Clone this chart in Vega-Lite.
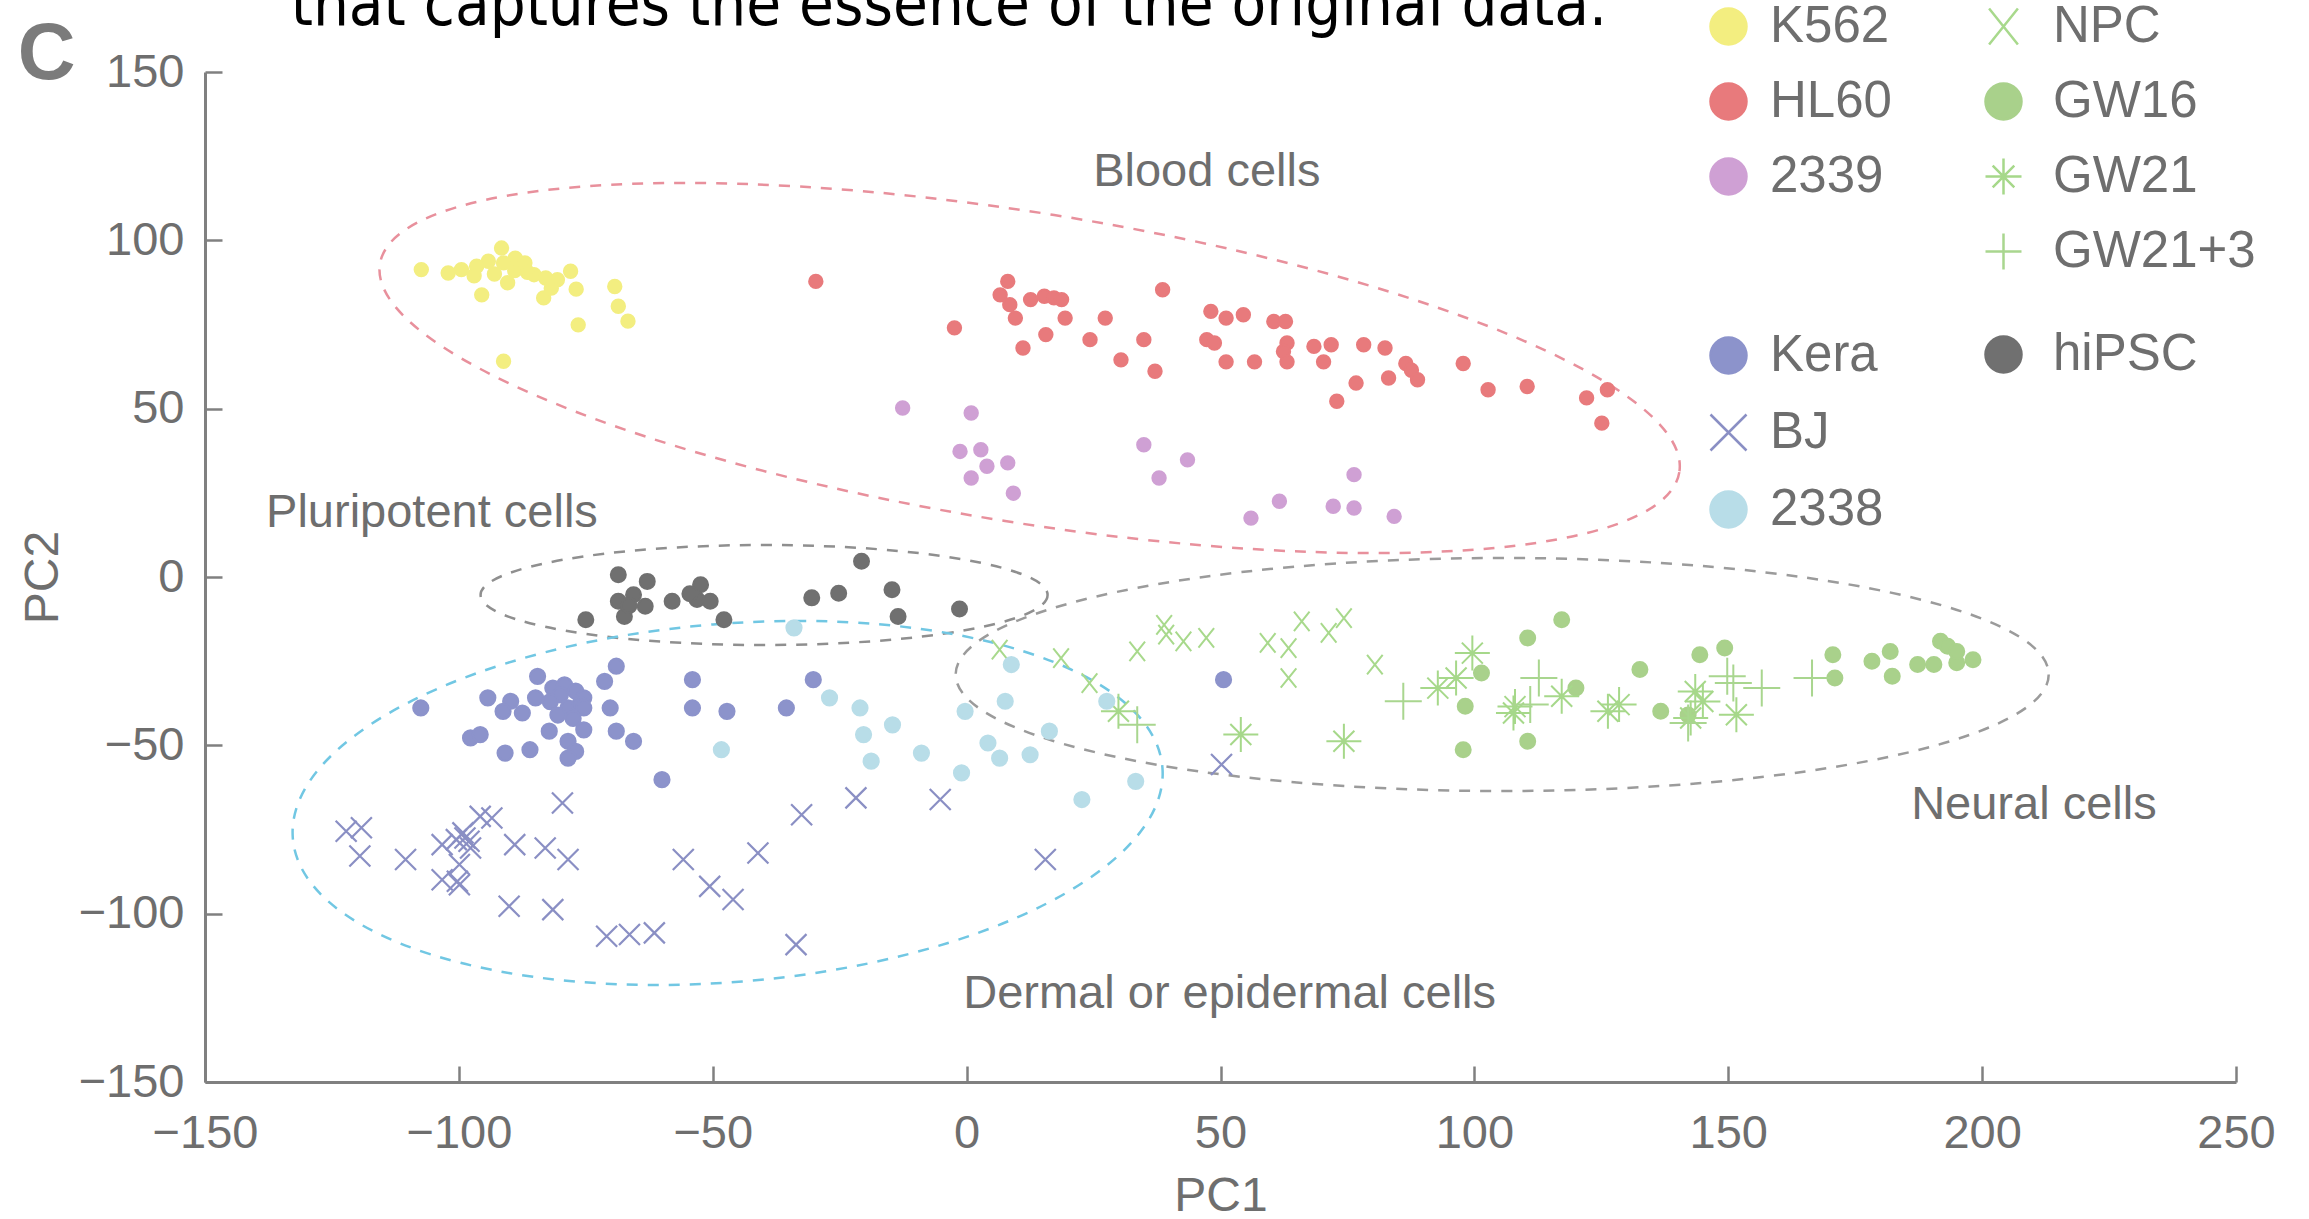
{
  "$schema": "https://vega.github.io/schema/vega-lite/v6.json",
  "width": 2031,
  "height": 1010,
  "autosize": {"type": "none"},
  "padding": {"left": 205, "top": 72, "right": 73, "bottom": 137},
  "background": "white",
  "config": {"view": {"stroke": null}, "font": "Liberation Sans"},
  "datasets": {
    "ellipses": [
      {"name": "Blood", "PC1": 12.41, "PC2": 62.07},
      {"name": "Pluripotent", "PC1": -39.89, "PC2": -5.35},
      {"name": "Dermal", "PC1": -47.07, "PC2": -67.12},
      {"name": "Neural", "PC1": 105.48, "PC2": -28.96}
    ],
    "notes": [
      {"kind": "group", "text": "Blood cells", "PC1": 47.3, "PC2": 116.1},
      {"kind": "group", "text": "Pluripotent cells", "PC1": -105.3, "PC2": 15.0},
      {"kind": "group", "text": "Dermal or epidermal cells", "PC1": 51.8, "PC2": -128.0},
      {"kind": "group", "text": "Neural cells", "PC1": 210.2, "PC2": -71.8},
      {"kind": "panel", "text": "C", "PC1": -181.2, "PC2": 148.0},
      {"kind": "caption", "text": "that captures the essence of the original data.", "PC1": -3.5, "PC2": 164.0}
    ],
    "cells": [
      {"type": "K562", "PC1": -107.4, "PC2": 91.3}, {"type": "K562", "PC1": -102.1, "PC2": 90.3}, {"type": "K562", "PC1": -99.5, "PC2": 91.3}, {"type": "K562", "PC1": -96.5, "PC2": 92.3}, {"type": "K562", "PC1": -94.2, "PC2": 93.8}, {"type": "K562", "PC1": -91.6, "PC2": 97.7}, {"type": "K562", "PC1": -91.2, "PC2": 93.3}, {"type": "K562", "PC1": -88.9, "PC2": 94.7}, {"type": "K562", "PC1": -87.0, "PC2": 93.3}, {"type": "K562", "PC1": -85.2, "PC2": 89.8}, {"type": "K562", "PC1": -82.9, "PC2": 88.8}, {"type": "K562", "PC1": -80.6, "PC2": 88.3}, {"type": "K562", "PC1": -78.0, "PC2": 90.8}, {"type": "K562", "PC1": -95.5, "PC2": 83.8}, {"type": "K562", "PC1": -90.4, "PC2": 87.4}, {"type": "K562", "PC1": -83.3, "PC2": 82.9}, {"type": "K562", "PC1": -81.8, "PC2": 85.8}, {"type": "K562", "PC1": -76.9, "PC2": 85.5}, {"type": "K562", "PC1": -76.5, "PC2": 74.9}, {"type": "K562", "PC1": -69.3, "PC2": 86.3}, {"type": "K562", "PC1": -68.6, "PC2": 80.4}, {"type": "K562", "PC1": -66.7, "PC2": 76.0}, {"type": "K562", "PC1": -91.2, "PC2": 64.1}, {"type": "K562", "PC1": -93.0, "PC2": 90.0}, {"type": "K562", "PC1": -89.0, "PC2": 91.0}, {"type": "K562", "PC1": -97.0, "PC2": 89.5}, {"type": "K562", "PC1": -86.5, "PC2": 90.5},
      {"type": "HL60", "PC1": -29.7, "PC2": 87.8}, {"type": "HL60", "PC1": -2.4, "PC2": 74.0}, {"type": "HL60", "PC1": 8.1, "PC2": 87.8}, {"type": "HL60", "PC1": 6.6, "PC2": 83.8}, {"type": "HL60", "PC1": 8.5, "PC2": 80.9}, {"type": "HL60", "PC1": 9.6, "PC2": 76.9}, {"type": "HL60", "PC1": 11.1, "PC2": 68.0}, {"type": "HL60", "PC1": 12.6, "PC2": 82.4}, {"type": "HL60", "PC1": 15.3, "PC2": 83.4}, {"type": "HL60", "PC1": 17.2, "PC2": 82.9}, {"type": "HL60", "PC1": 18.7, "PC2": 82.4}, {"type": "HL60", "PC1": 15.6, "PC2": 72.0}, {"type": "HL60", "PC1": 19.4, "PC2": 76.9}, {"type": "HL60", "PC1": 24.3, "PC2": 70.5}, {"type": "HL60", "PC1": 27.3, "PC2": 76.9}, {"type": "HL60", "PC1": 30.4, "PC2": 64.5}, {"type": "HL60", "PC1": 34.9, "PC2": 70.5}, {"type": "HL60", "PC1": 37.1, "PC2": 61.1}, {"type": "HL60", "PC1": 38.6, "PC2": 85.3}, {"type": "HL60", "PC1": 48.1, "PC2": 78.9}, {"type": "HL60", "PC1": 51.1, "PC2": 76.9}, {"type": "HL60", "PC1": 54.5, "PC2": 77.9}, {"type": "HL60", "PC1": 47.3, "PC2": 70.5}, {"type": "HL60", "PC1": 48.8, "PC2": 69.5}, {"type": "HL60", "PC1": 51.1, "PC2": 63.9}, {"type": "HL60", "PC1": 56.7, "PC2": 63.9}, {"type": "HL60", "PC1": 60.5, "PC2": 75.9}, {"type": "HL60", "PC1": 62.8, "PC2": 75.9}, {"type": "HL60", "PC1": 63.1, "PC2": 69.5}, {"type": "HL60", "PC1": 62.4, "PC2": 67.0}, {"type": "HL60", "PC1": 63.1, "PC2": 63.9}, {"type": "HL60", "PC1": 68.4, "PC2": 68.5}, {"type": "HL60", "PC1": 71.8, "PC2": 69.0}, {"type": "HL60", "PC1": 70.3, "PC2": 63.9}, {"type": "HL60", "PC1": 78.2, "PC2": 69.0}, {"type": "HL60", "PC1": 82.4, "PC2": 68.0}, {"type": "HL60", "PC1": 76.7, "PC2": 57.6}, {"type": "HL60", "PC1": 72.9, "PC2": 52.2}, {"type": "HL60", "PC1": 83.1, "PC2": 59.1}, {"type": "HL60", "PC1": 86.5, "PC2": 63.4}, {"type": "HL60", "PC1": 87.6, "PC2": 61.4}, {"type": "HL60", "PC1": 88.8, "PC2": 58.6}, {"type": "HL60", "PC1": 97.8, "PC2": 63.4}, {"type": "HL60", "PC1": 102.7, "PC2": 55.6}, {"type": "HL60", "PC1": 110.4, "PC2": 56.6}, {"type": "HL60", "PC1": 122.1, "PC2": 53.2}, {"type": "HL60", "PC1": 126.2, "PC2": 55.6}, {"type": "HL60", "PC1": 125.1, "PC2": 45.7},
      {"type": "2339", "PC1": -12.6, "PC2": 50.2}, {"type": "2339", "PC1": 0.9, "PC2": 48.7}, {"type": "2339", "PC1": -1.3, "PC2": 37.3}, {"type": "2339", "PC1": 2.8, "PC2": 37.8}, {"type": "2339", "PC1": 4.0, "PC2": 32.9}, {"type": "2339", "PC1": 8.1, "PC2": 33.9}, {"type": "2339", "PC1": 0.9, "PC2": 29.4}, {"type": "2339", "PC1": 9.2, "PC2": 24.9}, {"type": "2339", "PC1": 34.9, "PC2": 39.3}, {"type": "2339", "PC1": 43.5, "PC2": 34.8}, {"type": "2339", "PC1": 37.9, "PC2": 29.4}, {"type": "2339", "PC1": 56.0, "PC2": 17.5}, {"type": "2339", "PC1": 61.6, "PC2": 22.5}, {"type": "2339", "PC1": 72.2, "PC2": 21.0}, {"type": "2339", "PC1": 76.3, "PC2": 20.5}, {"type": "2339", "PC1": 76.3, "PC2": 30.4}, {"type": "2339", "PC1": 84.2, "PC2": 18.0},
      {"type": "hiPSC", "PC1": -68.6, "PC2": 0.7}, {"type": "hiPSC", "PC1": -62.9, "PC2": -1.3}, {"type": "hiPSC", "PC1": -68.6, "PC2": -7.2}, {"type": "hiPSC", "PC1": -65.6, "PC2": -5.3}, {"type": "hiPSC", "PC1": -63.3, "PC2": -8.7}, {"type": "hiPSC", "PC1": -67.4, "PC2": -11.7}, {"type": "hiPSC", "PC1": -58.0, "PC2": -7.2}, {"type": "hiPSC", "PC1": -75.0, "PC2": -12.7}, {"type": "hiPSC", "PC1": -52.4, "PC2": -2.3}, {"type": "hiPSC", "PC1": -53.1, "PC2": -6.7}, {"type": "hiPSC", "PC1": -50.5, "PC2": -7.2}, {"type": "hiPSC", "PC1": -47.8, "PC2": -12.7}, {"type": "hiPSC", "PC1": -30.5, "PC2": -6.2}, {"type": "hiPSC", "PC1": -25.2, "PC2": -4.8}, {"type": "hiPSC", "PC1": -20.7, "PC2": 4.7}, {"type": "hiPSC", "PC1": -14.7, "PC2": -3.8}, {"type": "hiPSC", "PC1": -13.5, "PC2": -11.7}, {"type": "hiPSC", "PC1": -1.4, "PC2": -9.5}, {"type": "hiPSC", "PC1": -66.5, "PC2": -8.5}, {"type": "hiPSC", "PC1": -54.5, "PC2": -5.0},
      {"type": "Kera", "PC1": -107.5, "PC2": -38.9}, {"type": "Kera", "PC1": -94.3, "PC2": -35.9}, {"type": "Kera", "PC1": -89.8, "PC2": -36.9}, {"type": "Kera", "PC1": -91.3, "PC2": -39.9}, {"type": "Kera", "PC1": -87.5, "PC2": -40.4}, {"type": "Kera", "PC1": -84.5, "PC2": -29.5}, {"type": "Kera", "PC1": -84.9, "PC2": -35.9}, {"type": "Kera", "PC1": -81.5, "PC2": -33.0}, {"type": "Kera", "PC1": -79.2, "PC2": -32.0}, {"type": "Kera", "PC1": -77.0, "PC2": -33.9}, {"type": "Kera", "PC1": -75.4, "PC2": -35.9}, {"type": "Kera", "PC1": -78.5, "PC2": -38.9}, {"type": "Kera", "PC1": -76.2, "PC2": -37.9}, {"type": "Kera", "PC1": -75.4, "PC2": -38.9}, {"type": "Kera", "PC1": -80.0, "PC2": -35.0}, {"type": "Kera", "PC1": -82.0, "PC2": -37.0}, {"type": "Kera", "PC1": -97.7, "PC2": -47.8}, {"type": "Kera", "PC1": -95.8, "PC2": -46.8}, {"type": "Kera", "PC1": -90.9, "PC2": -52.3}, {"type": "Kera", "PC1": -86.0, "PC2": -51.3}, {"type": "Kera", "PC1": -82.2, "PC2": -45.8}, {"type": "Kera", "PC1": -78.5, "PC2": -48.8}, {"type": "Kera", "PC1": -75.4, "PC2": -45.4}, {"type": "Kera", "PC1": -77.0, "PC2": -51.8}, {"type": "Kera", "PC1": -78.5, "PC2": -53.8}, {"type": "Kera", "PC1": -70.2, "PC2": -38.9}, {"type": "Kera", "PC1": -71.3, "PC2": -31.0}, {"type": "Kera", "PC1": -69.0, "PC2": -26.5}, {"type": "Kera", "PC1": -69.0, "PC2": -45.8}, {"type": "Kera", "PC1": -65.6, "PC2": -48.8}, {"type": "Kera", "PC1": -54.0, "PC2": -30.5}, {"type": "Kera", "PC1": -54.0, "PC2": -38.9}, {"type": "Kera", "PC1": -47.2, "PC2": -39.9}, {"type": "Kera", "PC1": -60.0, "PC2": -60.2}, {"type": "Kera", "PC1": -35.5, "PC2": -38.9}, {"type": "Kera", "PC1": -30.2, "PC2": -30.5}, {"type": "Kera", "PC1": 50.6, "PC2": -30.5}, {"type": "Kera", "PC1": -77.5, "PC2": -42.0}, {"type": "Kera", "PC1": -80.5, "PC2": -41.0},
      {"type": "BJ", "PC1": -122.2, "PC2": -75.5}, {"type": "BJ", "PC1": -119.2, "PC2": -74.5}, {"type": "BJ", "PC1": -119.5, "PC2": -82.9}, {"type": "BJ", "PC1": -110.5, "PC2": -83.9}, {"type": "BJ", "PC1": -103.3, "PC2": -79.5}, {"type": "BJ", "PC1": -98.8, "PC2": -77.5}, {"type": "BJ", "PC1": -99.2, "PC2": -76.0}, {"type": "BJ", "PC1": -97.7, "PC2": -80.5}, {"type": "BJ", "PC1": -99.9, "PC2": -85.4}, {"type": "BJ", "PC1": -103.3, "PC2": -89.9}, {"type": "BJ", "PC1": -100.3, "PC2": -90.4}, {"type": "BJ", "PC1": -99.9, "PC2": -91.4}, {"type": "BJ", "PC1": -95.8, "PC2": -71.1}, {"type": "BJ", "PC1": -93.5, "PC2": -71.6}, {"type": "BJ", "PC1": -89.0, "PC2": -79.5}, {"type": "BJ", "PC1": -83.0, "PC2": -80.5}, {"type": "BJ", "PC1": -78.5, "PC2": -83.9}, {"type": "BJ", "PC1": -79.6, "PC2": -67.1}, {"type": "BJ", "PC1": -90.1, "PC2": -97.8}, {"type": "BJ", "PC1": -81.5, "PC2": -98.8}, {"type": "BJ", "PC1": -70.9, "PC2": -106.7}, {"type": "BJ", "PC1": -66.4, "PC2": -106.2}, {"type": "BJ", "PC1": -61.5, "PC2": -105.7}, {"type": "BJ", "PC1": -55.8, "PC2": -83.9}, {"type": "BJ", "PC1": -50.6, "PC2": -91.9}, {"type": "BJ", "PC1": -46.0, "PC2": -95.8}, {"type": "BJ", "PC1": -41.1, "PC2": -82.0}, {"type": "BJ", "PC1": -32.5, "PC2": -70.6}, {"type": "BJ", "PC1": -33.6, "PC2": -109.2}, {"type": "BJ", "PC1": -21.8, "PC2": -65.6}, {"type": "BJ", "PC1": -5.2, "PC2": -66.1}, {"type": "BJ", "PC1": 15.5, "PC2": -83.9}, {"type": "BJ", "PC1": 50.2, "PC2": -55.7}, {"type": "BJ", "PC1": -98.0, "PC2": -78.5}, {"type": "BJ", "PC1": -100.5, "PC2": -78.0},
      {"type": "2338", "PC1": -34.0, "PC2": -15.1}, {"type": "2338", "PC1": -48.3, "PC2": -51.3}, {"type": "2338", "PC1": -27.0, "PC2": -35.9}, {"type": "2338", "PC1": -21.0, "PC2": -38.9}, {"type": "2338", "PC1": -14.6, "PC2": -43.9}, {"type": "2338", "PC1": -20.3, "PC2": -46.8}, {"type": "2338", "PC1": -18.8, "PC2": -54.7}, {"type": "2338", "PC1": -8.9, "PC2": -52.3}, {"type": "2338", "PC1": -1.0, "PC2": -58.2}, {"type": "2338", "PC1": -0.3, "PC2": -39.9}, {"type": "2338", "PC1": 7.6, "PC2": -36.9}, {"type": "2338", "PC1": 8.8, "PC2": -26.0}, {"type": "2338", "PC1": 4.2, "PC2": -49.3}, {"type": "2338", "PC1": 6.5, "PC2": -53.8}, {"type": "2338", "PC1": 12.5, "PC2": -52.8}, {"type": "2338", "PC1": 16.3, "PC2": -45.8}, {"type": "2338", "PC1": 27.6, "PC2": -36.9}, {"type": "2338", "PC1": 33.3, "PC2": -60.7}, {"type": "2338", "PC1": 22.7, "PC2": -66.1},
      {"type": "NPC", "PC1": 6.5, "PC2": -21.6}, {"type": "NPC", "PC1": 18.6, "PC2": -24.1}, {"type": "NPC", "PC1": 24.2, "PC2": -31.5}, {"type": "NPC", "PC1": 33.6, "PC2": -22.1}, {"type": "NPC", "PC1": 38.9, "PC2": -14.2}, {"type": "NPC", "PC1": 39.3, "PC2": -17.1}, {"type": "NPC", "PC1": 42.7, "PC2": -19.1}, {"type": "NPC", "PC1": 47.2, "PC2": -18.1}, {"type": "NPC", "PC1": 59.3, "PC2": -19.6}, {"type": "NPC", "PC1": 63.4, "PC2": -21.1}, {"type": "NPC", "PC1": 66.0, "PC2": -13.2}, {"type": "NPC", "PC1": 63.4, "PC2": -30.0}, {"type": "NPC", "PC1": 71.3, "PC2": -16.6}, {"type": "NPC", "PC1": 74.3, "PC2": -12.2}, {"type": "NPC", "PC1": 80.4, "PC2": -26.0},
      {"type": "GW16", "PC1": 117.2, "PC2": -12.7}, {"type": "GW16", "PC1": 110.5, "PC2": -18.1}, {"type": "GW16", "PC1": 101.4, "PC2": -28.5}, {"type": "GW16", "PC1": 98.2, "PC2": -38.4}, {"type": "GW16", "PC1": 97.8, "PC2": -51.3}, {"type": "GW16", "PC1": 110.5, "PC2": -48.8}, {"type": "GW16", "PC1": 120.0, "PC2": -33.0}, {"type": "GW16", "PC1": 132.6, "PC2": -27.5}, {"type": "GW16", "PC1": 136.7, "PC2": -39.9}, {"type": "GW16", "PC1": 142.1, "PC2": -41.0}, {"type": "GW16", "PC1": 144.4, "PC2": -23.1}, {"type": "GW16", "PC1": 149.3, "PC2": -21.1}, {"type": "GW16", "PC1": 170.6, "PC2": -23.1}, {"type": "GW16", "PC1": 171.0, "PC2": -30.0}, {"type": "GW16", "PC1": 178.3, "PC2": -25.0}, {"type": "GW16", "PC1": 181.9, "PC2": -22.1}, {"type": "GW16", "PC1": 182.3, "PC2": -29.5}, {"type": "GW16", "PC1": 187.3, "PC2": -26.0}, {"type": "GW16", "PC1": 190.5, "PC2": -26.0}, {"type": "GW16", "PC1": 191.8, "PC2": -19.1}, {"type": "GW16", "PC1": 193.2, "PC2": -20.6}, {"type": "GW16", "PC1": 195.0, "PC2": -25.5}, {"type": "GW16", "PC1": 195.0, "PC2": -22.1}, {"type": "GW16", "PC1": 198.2, "PC2": -24.6},
      {"type": "GW21", "PC1": 29.9, "PC2": -39.9}, {"type": "GW21", "PC1": 54.0, "PC2": -46.8}, {"type": "GW21", "PC1": 74.3, "PC2": -48.8}, {"type": "GW21", "PC1": 99.6, "PC2": -22.6}, {"type": "GW21", "PC1": 96.4, "PC2": -30.0}, {"type": "GW21", "PC1": 92.8, "PC2": -33.0}, {"type": "GW21", "PC1": 107.7, "PC2": -40.4}, {"type": "GW21", "PC1": 117.2, "PC2": -35.4}, {"type": "GW21", "PC1": 126.3, "PC2": -39.9}, {"type": "GW21", "PC1": 128.5, "PC2": -37.9}, {"type": "GW21", "PC1": 143.5, "PC2": -34.0}, {"type": "GW21", "PC1": 142.6, "PC2": -41.9}, {"type": "GW21", "PC1": 151.6, "PC2": -40.9}, {"type": "GW21", "PC1": 108.0, "PC2": -38.5}, {"type": "GW21", "PC1": 145.0, "PC2": -37.0},
      {"type": "GW21+3", "PC1": 33.6, "PC2": -43.9}, {"type": "GW21+3", "PC1": 86.0, "PC2": -36.9}, {"type": "GW21+3", "PC1": 112.7, "PC2": -30.0}, {"type": "GW21+3", "PC1": 111.0, "PC2": -37.9}, {"type": "GW21+3", "PC1": 149.8, "PC2": -29.5}, {"type": "GW21+3", "PC1": 151.0, "PC2": -31.5}, {"type": "GW21+3", "PC1": 156.6, "PC2": -33.0}, {"type": "GW21+3", "PC1": 166.5, "PC2": -30.0}, {"type": "GW21+3", "PC1": 142.1, "PC2": -43.4}
    ]
  },
  "resolve": {"scale": {"fill": "independent", "stroke": "independent", "shape": "independent", "size": "independent"}},
  "layer": [
    {
      "data": {"name": "ellipses"},
      "transform": [{"filter": "datum.name === 'Blood'"}],
      "mark": {"type": "point", "shape": "M6.497,1.041C6.362,1.886,3.343,2.105,-0.245,1.53C-3.833,0.955,-6.632,-0.196,-6.497,-1.041C-6.362,-1.886,-3.343,-2.105,0.245,-1.53C3.833,-0.955,6.632,0.196,6.497,1.041Z", "size": 40000, "filled": false, "color": "#e8909c", "stroke": "#e8909c", "strokeWidth": 2.5, "strokeDash": [11, 10], "opacity": 1},
      "encoding": {
        "x": {"field": "PC1", "type": "quantitative", "title": "PC1", "scale": {"domain": [-150, 250], "nice": false, "zero": false},
          "axis": {"values": [-150, -100, -50, 0, 50, 100, 150, 200, 250], "grid": false, "tickSize": -16, "tickWidth": 2.5, "tickColor": "#808080", "domainColor": "#808080", "domainWidth": 3, "labelFontSize": 47, "labelColor": "#6e6e6e", "labelFont": "Liberation Sans", "labelPadding": 44, "labelFlush": false, "labelOverlap": false, "labelBound": false, "titleFontSize": 48, "titleFontWeight": "normal", "titleColor": "#6e6e6e", "titleFont": "Liberation Sans", "titleY": 128, "titleBaseline": "alphabetic"}},
        "y": {"field": "PC2", "type": "quantitative", "title": "PC2", "scale": {"domain": [-150, 150], "nice": false, "zero": false},
          "axis": {"values": [-150, -100, -50, 0, 50, 100, 150], "grid": false, "tickSize": -17, "tickWidth": 2.5, "tickColor": "#808080", "domainColor": "#808080", "domainWidth": 3, "labelFontSize": 47, "labelColor": "#6e6e6e", "labelFont": "Liberation Sans", "labelPadding": 38, "labelFlush": false, "labelOverlap": false, "labelBound": false, "titleFontSize": 48, "titleFontWeight": "normal", "titleColor": "#6e6e6e", "titleFont": "Liberation Sans", "titleX": -148, "titleBaseline": "alphabetic"}}
      }
    },
    {
      "data": {"name": "ellipses"},
      "transform": [{"filter": "datum.name === 'Pluripotent'"}],
      "mark": {"type": "point", "shape": "M2.835,0C2.835,0.276,1.566,0.5,0,0.5C-1.566,0.5,-2.835,0.276,-2.835,0C-2.835,-0.276,-1.566,-0.5,0,-0.5C1.566,-0.5,2.835,-0.276,2.835,0Z", "size": 40000, "filled": false, "color": "#8f8f8f", "stroke": "#8f8f8f", "strokeWidth": 2.5, "strokeDash": [11, 10], "opacity": 1},
      "encoding": {
        "x": {"field": "PC1", "type": "quantitative", "title": "PC1", "scale": {"domain": [-150, 250], "nice": false, "zero": false}},
        "y": {"field": "PC2", "type": "quantitative", "title": "PC2", "scale": {"domain": [-150, 150], "nice": false, "zero": false}}
      }
    },
    {
      "data": {"name": "ellipses"},
      "transform": [{"filter": "datum.name === 'Dermal'"}],
      "mark": {"type": "point", "shape": "M4.348,-0.354C4.428,0.632,2.547,1.589,0.146,1.785C-2.256,1.981,-4.268,1.34,-4.348,0.354C-4.428,-0.632,-2.547,-1.589,-0.146,-1.785C2.256,-1.981,4.268,-1.34,4.348,-0.354Z", "size": 40000, "filled": false, "color": "#71c7e3", "stroke": "#71c7e3", "strokeWidth": 2.5, "strokeDash": [11, 10], "opacity": 1},
      "encoding": {
        "x": {"field": "PC1", "type": "quantitative", "title": "PC1", "scale": {"domain": [-150, 250], "nice": false, "zero": false}},
        "y": {"field": "PC2", "type": "quantitative", "title": "PC2", "scale": {"domain": [-150, 150], "nice": false, "zero": false}}
      }
    },
    {
      "data": {"name": "ellipses"},
      "transform": [{"filter": "datum.name === 'Neural'"}],
      "mark": {"type": "point", "shape": "M5.465,0C5.465,0.643,3.018,1.165,0,1.165C-3.018,1.165,-5.465,0.643,-5.465,0C-5.465,-0.643,-3.018,-1.165,0,-1.165C3.018,-1.165,5.465,-0.643,5.465,0Z", "size": 40000, "filled": false, "color": "#9b9b9b", "stroke": "#9b9b9b", "strokeWidth": 2.5, "strokeDash": [11, 10], "opacity": 1},
      "encoding": {
        "x": {"field": "PC1", "type": "quantitative", "title": "PC1", "scale": {"domain": [-150, 250], "nice": false, "zero": false}},
        "y": {"field": "PC2", "type": "quantitative", "title": "PC2", "scale": {"domain": [-150, 150], "nice": false, "zero": false}}
      }
    },
    {
      "data": {"name": "cells"},
      "transform": [{"filter": {"field": "type", "oneOf": ["K562", "HL60", "2339"]}}],
      "mark": {"type": "point", "filled": true, "opacity": 1, "strokeWidth": 2, "size": 180},
      "encoding": {
        "x": {"field": "PC1", "type": "quantitative", "title": "PC1", "scale": {"domain": [-150, 250], "nice": false, "zero": false}},
        "y": {"field": "PC2", "type": "quantitative", "title": "PC2", "scale": {"domain": [-150, 150], "nice": false, "zero": false}},
        "fill": {"field": "type", "type": "nominal", "scale": {"domain": ["K562", "HL60", "2339"], "range": ["#f3ee80", "#e87a7c", "#cfa0d4"]},
          "legend": {"orient": "none", "legendX": 1498, "legendY": -71, "title": null, "labelFontSize": 51, "labelLimit": 500, "labelColor": "#6e6e6e", "labelFont": "Liberation Sans", "symbolSize": 1296, "symbolStrokeWidth": 2.5, "rowPadding": 23, "labelOffset": 16, "padding": 0, "offset": 0}},
        "stroke": {"field": "type", "type": "nominal", "scale": {"domain": ["K562", "HL60", "2339"], "range": ["#f3ee80", "#e87a7c", "#cfa0d4"]}},
        "shape": {"field": "type", "type": "nominal", "scale": {"domain": ["K562", "HL60", "2339"], "range": ["circle", "circle", "circle"]}}
      }
    },
    {
      "data": {"name": "cells"},
      "transform": [{"filter": {"field": "type", "oneOf": ["NPC", "GW16", "GW21", "GW21+3"]}}],
      "mark": {"type": "point", "filled": true, "opacity": 1, "strokeWidth": 2},
      "encoding": {
        "x": {"field": "PC1", "type": "quantitative", "title": "PC1", "scale": {"domain": [-150, 250], "nice": false, "zero": false}},
        "y": {"field": "PC2", "type": "quantitative", "title": "PC2", "scale": {"domain": [-150, 150], "nice": false, "zero": false}},
        "fill": {"field": "type", "type": "nominal", "scale": {"domain": ["NPC", "GW16", "GW21", "GW21+3"], "range": ["#a8d98c", "#a9d18b", "#a6d88a", "#a9d68f"]},
          "legend": {"orient": "none", "legendX": 1773, "legendY": -71, "title": null, "labelFontSize": 51, "labelLimit": 500, "labelColor": "#6e6e6e", "labelFont": "Liberation Sans", "symbolSize": 1296, "symbolStrokeWidth": 2.5, "rowPadding": 23, "labelOffset": 24, "padding": 0, "offset": 0}},
        "stroke": {"field": "type", "type": "nominal", "scale": {"domain": ["NPC", "GW16", "GW21", "GW21+3"], "range": ["#a8d98c", "#a9d18b", "#a6d88a", "#a9d68f"]}},
        "shape": {"field": "type", "type": "nominal", "scale": {"domain": ["NPC", "GW16", "GW21", "GW21+3"], "range": ["M-0.8,-1L0.8,1M-0.8,1L0.8,-1", "circle", "M-1,0L1,0M0,-1L0,1M-0.6,-0.6L0.6,0.6M-0.6,0.6L0.6,-0.6", "M-1,0L1,0M0,-1L0,1"]}},
        "size": {"field": "type", "type": "nominal", "legend": null, "scale": {"type": "ordinal", "domain": ["GW21+3", "GW21", "GW16", "NPC"], "range": [1369, 1225, 225, 380]}}
      }
    },
    {
      "data": {"name": "cells"},
      "transform": [{"filter": {"field": "type", "oneOf": ["Kera", "BJ", "2338"]}}],
      "mark": {"type": "point", "filled": true, "opacity": 1, "strokeWidth": 2.2},
      "encoding": {
        "x": {"field": "PC1", "type": "quantitative", "title": "PC1", "scale": {"domain": [-150, 250], "nice": false, "zero": false}},
        "y": {"field": "PC2", "type": "quantitative", "title": "PC2", "scale": {"domain": [-150, 150], "nice": false, "zero": false}},
        "fill": {"field": "type", "type": "nominal", "scale": {"domain": ["Kera", "BJ", "2338"], "range": ["#8c93cb", "#8a8fc4", "#b8dde8"]},
          "legend": {"orient": "none", "legendX": 1498, "legendY": 258, "title": null, "labelFontSize": 51, "labelLimit": 500, "labelColor": "#6e6e6e", "labelFont": "Liberation Sans", "symbolSize": 1296, "symbolStrokeWidth": 2.5, "rowPadding": 25, "labelOffset": 16, "padding": 0, "offset": 0}},
        "stroke": {"field": "type", "type": "nominal", "scale": {"domain": ["Kera", "BJ", "2338"], "range": ["#8c93cb", "#8a8fc4", "#b8dde8"]}},
        "shape": {"field": "type", "type": "nominal", "scale": {"domain": ["Kera", "BJ", "2338"], "range": ["circle", "M-1,-1L1,1M-1,1L1,-1", "circle"]}},
        "size": {"field": "type", "type": "nominal", "legend": null, "scale": {"type": "ordinal", "domain": ["2338", "BJ", "Kera"], "range": [225, 441, 225]}}
      }
    },
    {
      "data": {"name": "cells"},
      "transform": [{"filter": {"field": "type", "oneOf": ["hiPSC"]}}],
      "mark": {"type": "point", "filled": true, "opacity": 1, "strokeWidth": 2, "size": 225},
      "encoding": {
        "x": {"field": "PC1", "type": "quantitative", "title": "PC1", "scale": {"domain": [-150, 250], "nice": false, "zero": false}},
        "y": {"field": "PC2", "type": "quantitative", "title": "PC2", "scale": {"domain": [-150, 150], "nice": false, "zero": false}},
        "fill": {"field": "type", "type": "nominal", "scale": {"domain": ["hiPSC"], "range": ["#707070"]},
          "legend": {"orient": "none", "legendX": 1773, "legendY": 257, "title": null, "labelFontSize": 51, "labelLimit": 500, "labelColor": "#6e6e6e", "labelFont": "Liberation Sans", "symbolSize": 1296, "symbolStrokeWidth": 2.5, "rowPadding": 23, "labelOffset": 24, "padding": 0, "offset": 0}},
        "stroke": {"field": "type", "type": "nominal", "scale": {"domain": ["hiPSC"], "range": ["#707070"]}},
        "shape": {"field": "type", "type": "nominal", "scale": {"domain": ["hiPSC"], "range": ["circle"]}}
      }
    },
    {
      "data": {"name": "notes"},
      "transform": [{"filter": "datum.kind === 'group'"}],
      "mark": {"type": "text", "font": "Liberation Sans", "fontSize": 47, "color": "#6e6e6e", "align": "center", "baseline": "alphabetic"},
      "encoding": {
        "x": {"field": "PC1", "type": "quantitative", "title": "PC1", "scale": {"domain": [-150, 250], "nice": false, "zero": false}},
        "y": {"field": "PC2", "type": "quantitative", "title": "PC2", "scale": {"domain": [-150, 150], "nice": false, "zero": false}},
        "text": {"field": "text"}
      }
    },
    {
      "data": {"name": "notes"},
      "transform": [{"filter": "datum.kind === 'panel'"}],
      "mark": {"type": "text", "font": "Liberation Sans", "fontSize": 80, "fontWeight": "bold", "color": "#7b7b7b", "align": "center", "baseline": "alphabetic"},
      "encoding": {
        "x": {"field": "PC1", "type": "quantitative", "title": "PC1", "scale": {"domain": [-150, 250], "nice": false, "zero": false}},
        "y": {"field": "PC2", "type": "quantitative", "title": "PC2", "scale": {"domain": [-150, 150], "nice": false, "zero": false}},
        "text": {"field": "text"}
      }
    },
    {
      "data": {"name": "notes"},
      "transform": [{"filter": "datum.kind === 'caption'"}],
      "mark": {"type": "text", "font": "DejaVu Sans Condensed", "fontSize": 63, "color": "#000000", "align": "center", "baseline": "alphabetic"},
      "encoding": {
        "x": {"field": "PC1", "type": "quantitative", "title": "PC1", "scale": {"domain": [-150, 250], "nice": false, "zero": false}},
        "y": {"field": "PC2", "type": "quantitative", "title": "PC2", "scale": {"domain": [-150, 150], "nice": false, "zero": false}},
        "text": {"field": "text"}
      }
    }
  ]
}
